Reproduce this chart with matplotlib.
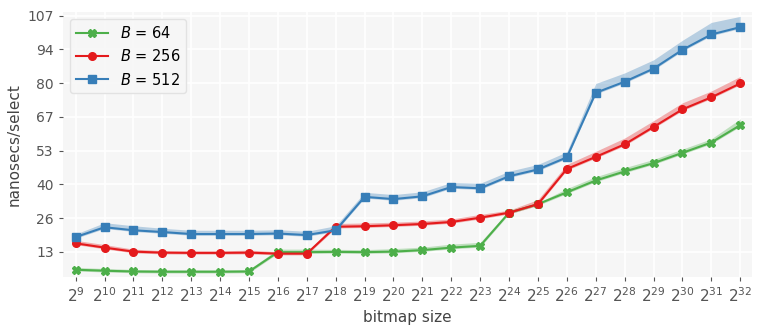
import matplotlib
matplotlib.use('Agg')
import matplotlib.pyplot as plt
import numpy as np

exps = list(range(9, 33))

b64 = [5.9, 5.5, 5.2, 5.1, 5.1, 5.1, 5.2, 12.9, 12.9, 13.0, 12.9, 13.1, 13.7, 14.7, 15.4,
       28.6, 32.0, 36.7, 41.4, 45.0, 48.3, 52.4, 56.5, 63.4]
b256 = [16.4, 14.7, 13.1, 12.7, 12.6, 12.6, 12.7, 12.3, 12.3, 23.0, 23.2, 23.6, 24.1, 24.9,
        26.6, 28.6, 32.0, 46.0, 50.8, 55.8, 62.7, 69.7, 74.5, 80.0]
b512 = [18.9, 22.8, 21.6, 20.9, 20.1, 20.1, 20.1, 20.3, 19.7, 21.6, 34.9, 34.0, 35.1, 38.8,
        38.3, 43.1, 45.8, 50.6, 76.3, 80.7, 85.9, 93.4, 99.5, 102.4]

# spread of the shaded band above / below each line
b64_hi = [0.9, 0.9, 0.8, 0.8, 0.8, 0.8, 0.8, 1.2, 1.2, 1.0, 1.0, 1.2, 1.2, 1.4, 1.4,
          0.8, 0.5, 1.5, 1.5, 1.5, 1.5, 1.5, 1.5, 2.5]
b256_hi = [1.2, 1.2, 1.0, 0.8, 0.8, 0.8, 1.0, 0.8, 0.8, 1.3, 1.3, 1.2, 1.2, 1.2, 1.3,
           1.0, 1.8, 1.8, 2.2, 2.5, 2.5, 2.6, 2.5, 2.8]
b512_hi = [1.2, 1.8, 1.8, 1.5, 1.5, 1.5, 1.5, 1.5, 1.5, 1.8, 1.8, 1.8, 1.8, 1.8, 2.0,
           2.0, 2.0, 2.2, 3.7, 3.5, 3.5, 3.8, 4.8, 4.3]
lo = 0.5

series = [
    ('$B$ = 64', b64, b64_hi, '#4daf4a', 'X'),
    ('$B$ = 256', b256, b256_hi, '#e41a1c', 'o'),
    ('$B$ = 512', b512, b512_hi, '#377eb8', 's'),
]

fig = plt.figure(figsize=(7.64, 3.29), dpi=100)
ax = fig.add_axes([0.082, 0.158, 0.902, 0.806])
ax.set_facecolor('#f6f6f6')
for s in ax.spines.values():
    s.set_visible(False)
ax.grid(True, color='white', linewidth=1.2)
ax.set_axisbelow(True)

for label, ys, hi, col, mk in series:
    ys = np.array(ys)
    ax.fill_between(exps, ys - lo, ys + np.array(hi), color=col, alpha=0.33, linewidth=0)
    ax.plot(exps, ys, color=col, marker=mk, markersize=5.5, linewidth=1.5, label=label)

yt = np.linspace(13, 107, 8)
ax.set_yticks(yt)
ax.set_yticklabels(['%d' % round(v) for v in yt])
ax.set_xticks(exps)
ax.set_xticklabels(['$2^{%d}$' % e for e in exps])
ax.set_xlim(8.55, 32.4)
ax.set_ylim(3, 108.5)
ax.tick_params(colors='#555555', labelsize=10, length=3)
ax.tick_params(axis='x', labelsize=11)
ax.set_xlabel('bitmap size', fontsize=11, color='#444444')
ax.set_ylabel('nanosecs/select', fontsize=11, color='#444444')

leg = ax.legend(loc='upper left', fontsize=10.5, frameon=True, facecolor='#f6f6f6',
                edgecolor='#dddddd', handlelength=2.2)

fig.savefig('out.png', dpi=100)
